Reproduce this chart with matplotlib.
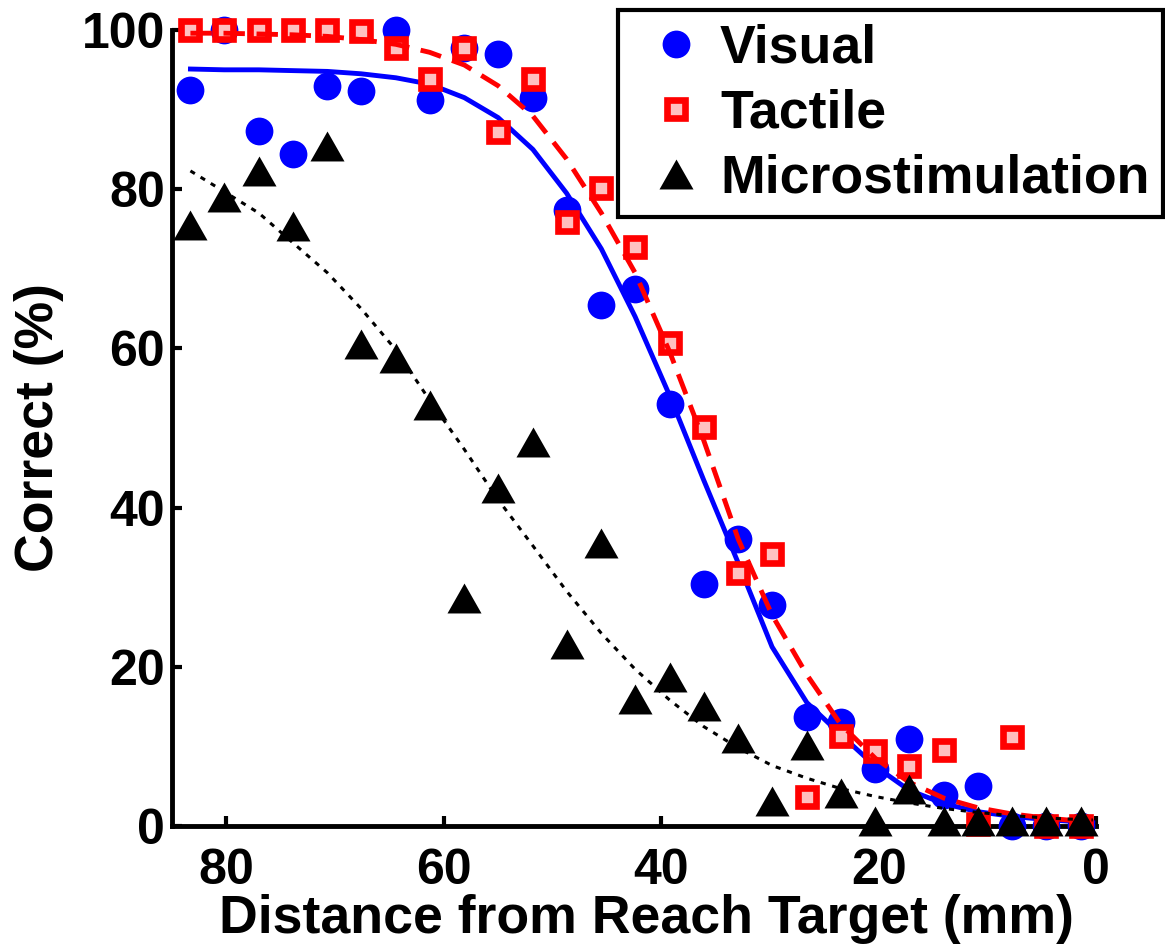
import matplotlib
matplotlib.use("Agg")
import matplotlib.pyplot as plt

# distance of each target bin from the reach target (mm)
dist = [83.3, 80.2, 77.0, 73.9, 70.7, 67.6, 64.4, 61.3, 58.1, 55.0, 51.8, 48.7, 45.5, 42.4,
        39.2, 36.1, 32.9, 29.8, 26.6, 23.5, 20.3, 17.2, 14.0, 10.9, 7.7, 4.6, 1.4]

# percent correct per condition
visual = [92.5, 100, 87.3, 84.4, 93.0, 92.3, 100, 91.2, 97.8, 97.0, 91.5, 77.4, 65.5, 67.5,
          53.0, 30.4, 36.0, 27.8, 13.7, 13.0, 7.1, 10.9, 3.9, 5.0, 0, 0, 0]
tactile = [100, 100, 100, 100, 100, 99.9, 97.7, 93.8, 97.7, 87.2, 93.8, 75.9, 80.2, 72.7,
           60.7, 50.1, 31.8, 34.2, 3.6, 11.3, 9.4, 7.5, 9.6, 0.3, 11.2, 0, 0]
micro = [75.5, 79.0, 82.3, 75.4, 85.4, 60.6, 58.8, 52.9, 28.7, 42.4, 48.3, 22.9, 35.6, 16.0,
         18.7, 15.1, 11.0, 3.2, 10.2, 4.2, 0.6, 4.6, 0.6, 0.6, 0.6, 0.6, 0.6]

# fitted psychometric curves
fit_dist = [83.3, 80.2, 77.0, 73.9, 70.7, 67.6, 64.4, 61.3, 58.1, 55.0, 51.8, 48.7, 45.5, 42.4,
            39.2, 36.1, 32.9, 29.8, 26.6, 23.5, 20.3, 17.2, 14.0, 10.9, 7.7, 4.6, 1.4, 0.3]
visual_fit = [95.1, 95.0, 95.0, 94.9, 94.8, 94.5, 94.0, 93.2, 91.5, 89.0, 85.0, 79.5, 72.5, 64.0,
              54.0, 43.5, 33.0, 22.5, 15.5, 11.5, 7.5, 4.5, 2.8, 1.8, 1.2, 0.8, 0.5, 0.4]
tactile_fit = [99.6, 99.6, 99.5, 99.4, 99.2, 98.8, 98.2, 97.2, 95.6, 93.0, 89.2, 83.8, 77.0, 69.5,
               59.5, 48.5, 36.0, 26.5, 19.0, 12.8, 8.5, 5.5, 3.5, 2.3, 1.5, 1.0, 0.6, 0.5]
micro_fit = [82.3, 79.7, 77.0, 73.3, 69.5, 65.0, 59.8, 53.5, 47.3, 41.0, 35.2, 29.5, 24.2, 19.7,
             15.8, 12.5, 9.8, 7.6, 6.0, 4.7, 3.7, 2.9, 2.2, 1.7, 1.3, 1.0, 0.8, 0.75]

xticks = [80, 60, 40, 20, 0]
yticks = [0, 20, 40, 60, 80, 100]

plt.rcParams['font.family'] = ['Liberation Sans', 'DejaVu Sans']
plt.rcParams['font.weight'] = 'bold'

fig = plt.figure(figsize=(11.65, 9.47), dpi=100)
ax = fig.add_axes([0.1476, 0.1278, 0.7932, 0.8405])

# wide, flat triangle marker
tri = [(-1, -0.88), (1, -0.88), (0, 0.88)]

ax.plot(dist, visual, 'o', color='blue', ms=20, mew=0, clip_on=False,
        label='Visual', zorder=3)
ax.plot(fit_dist, visual_fit, '-', color='blue', lw=3.5, clip_on=False, zorder=4)
ax.plot(dist, tactile, 's', mfc='#ffc0c0', mec='red', ms=12.3, mew=4.8, clip_on=False,
        label='Tactile', zorder=5)
ax.plot(fit_dist, tactile_fit, '--', color='red', lw=3.5, dashes=(4.4, 2.4),
        clip_on=False, zorder=6)
ax.plot(dist, micro, linestyle='none', marker=tri, color='black', ms=24.5, mew=0,
        clip_on=False, label='Microstimulation', zorder=7)
ax.plot(fit_dist, micro_fit, ':', color='black', lw=2.2, dashes=(1.7, 2.2),
        clip_on=False, zorder=8)

ax.set_xlim(85, 0)
ax.set_ylim(0, 100)
ax.set_xticks(xticks)
ax.set_yticks(yticks)
for s in ['top', 'right']:
    ax.spines[s].set_visible(False)
for s in ['left', 'bottom']:
    ax.spines[s].set_linewidth(3.5)
ax.tick_params(direction='in', length=7, width=3, labelsize=36)
ax.tick_params(axis='y', pad=5)
ax.tick_params(axis='x', pad=16)

ax.set_xlabel('Distance from Reach Target (mm)', fontsize=38.6, fontweight='bold', labelpad=1)
ax.xaxis.set_label_coords(0.514, -0.085)
ax.set_ylabel('Correct (%)', fontsize=38.6, fontweight='bold', labelpad=13)

leg = ax.legend(loc='upper right', bbox_to_anchor=(1163 / 1165, 1 - 10 / 947),
                bbox_transform=fig.transFigure, borderaxespad=0, fontsize=38.6,
                frameon=True, fancybox=False, edgecolor='black', framealpha=1,
                numpoints=1, handlelength=1.65, handletextpad=0.0, borderpad=0.25,
                labelspacing=0.28)
leg.get_frame().set_linewidth(3)
for t in leg.get_texts():
    t.set_fontweight('bold')

fig.savefig('out.png', dpi=100)
